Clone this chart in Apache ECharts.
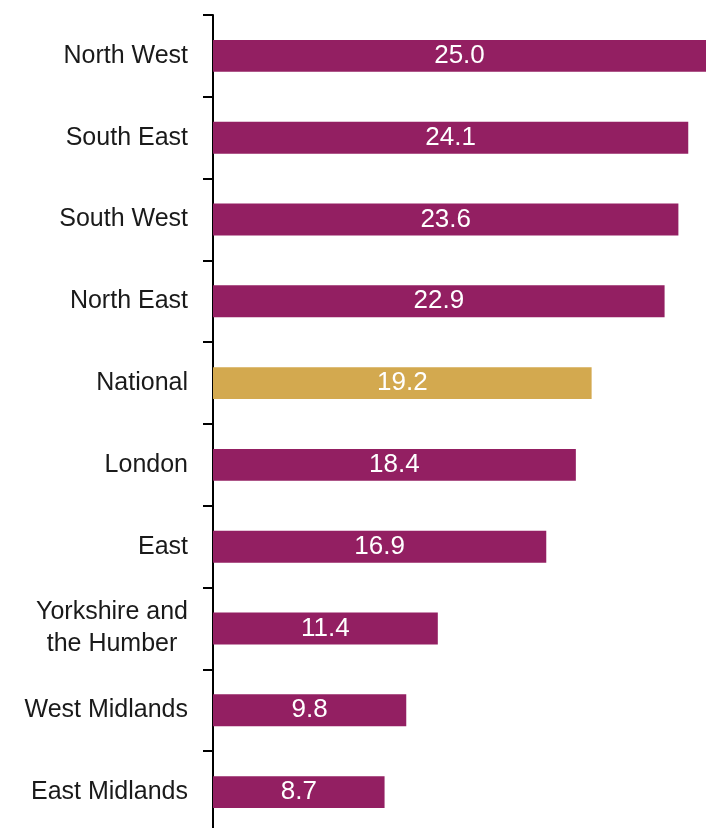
<!DOCTYPE html>
<html>
<head>
<meta charset="utf-8">
<script src="https://cdn.jsdelivr.net/npm/echarts@6/dist/echarts.min.js"></script>
<style>
html, body { margin: 0; padding: 0; background: #fff; overflow: hidden; }
/* axis runs off the bottom edge in the original, so the chart is a bit taller than the page */
#chart { width: 706px; height: 840px; }
</style>
</head>
<body>
<div id="chart"></div>
<script>
// regions, top to bottom
const regions = ['North West', 'South East', 'South West', 'North East', 'National',
	'London', 'East', 'Yorkshire and the Humber', 'West Midlands', 'East Midlands'];
const values = [25.0, 24.1, 23.6, 22.9, 19.2, 18.4, 16.9, 11.4, 9.8, 8.7];
const highlight = 'National';

const purple = '#931F62';
const gold = '#D3A94F';

var myChart = echarts.init(document.getElementById('chart'));
let option = {
	animation: false,
	grid: {
		left: 213,
		right: 0,
		top: 15,
		height: 818,
	},
	xAxis: {
		type: 'value',
		min: 0,
		max: 25,
		show: false,
	},
	yAxis: {
		type: 'category',
		inverse: true,
		data: regions,
		axisLine: {
			show: true,
			lineStyle: { color: '#000', width: 2 }
		},
		axisTick: {
			show: true,
			length: 10,
			lineStyle: { color: '#000', width: 2 }
		},
		axisLabel: {
			margin: 25,
			color: '#1a1a1a',
			fontSize: 25,
			fontFamily: 'Liberation Sans',
			formatter: function (v) {
				if (v === 'Yorkshire and the Humber') {
					return '{c|Yorkshire and}\n{c|the Humber}';
				}
				return v;
			},
			rich: {
				c: { align: 'center', fontSize: 25, lineHeight: 32, color: '#1a1a1a', fontFamily: 'Liberation Sans' }
			}
		},
		splitLine: { show: false },
	},
	series: [
		{
			type: 'bar',
			barWidth: '39%',
			data: values.map(function (v, i) {
				return {
					value: v,
					itemStyle: { color: regions[i] === highlight ? gold : purple }
				};
			}),
			label: {
				show: true,
				position: 'inside',
				color: '#fff',
				fontSize: 26,
				fontFamily: 'Liberation Sans',
				formatter: function (p) {
					return p.value.toFixed(1);
				}
			}
		}
	]
};
myChart.setOption(option);
</script>
</body>
</html>
